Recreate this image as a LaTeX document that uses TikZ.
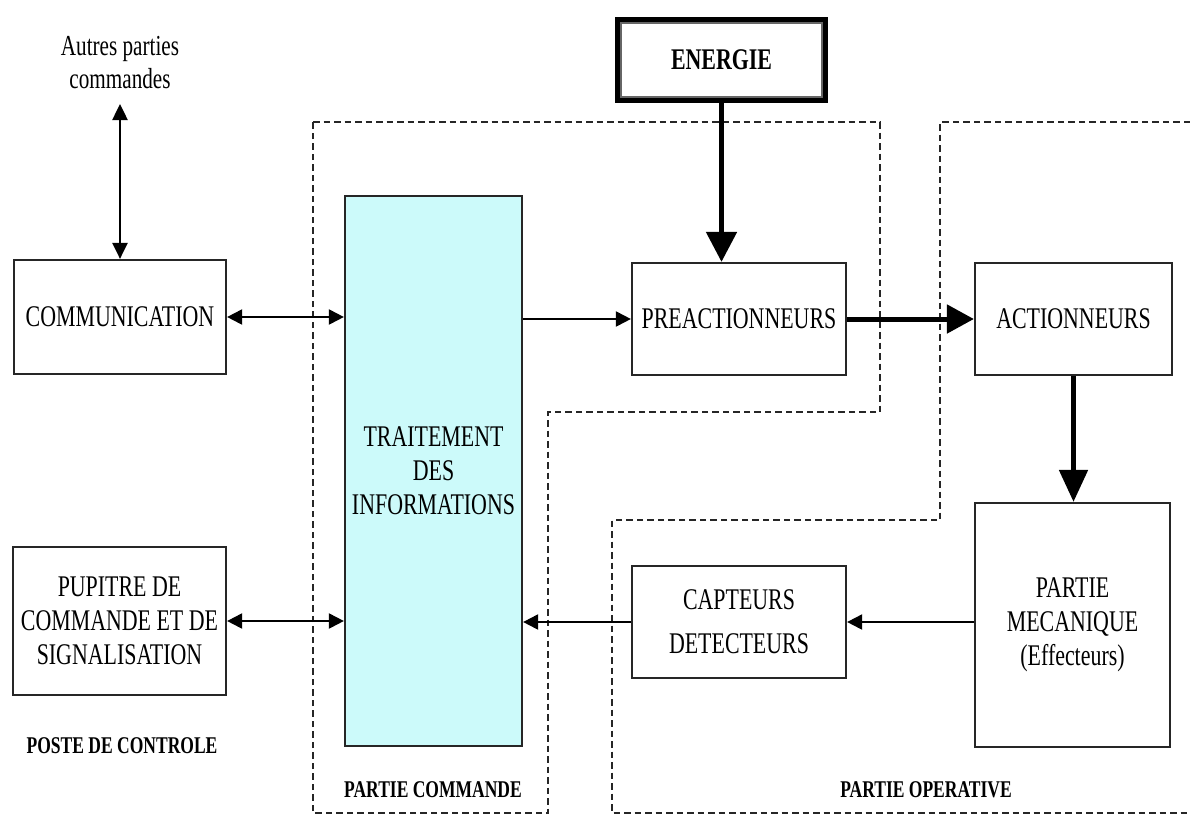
\documentclass[tikz,border=0pt]{standalone}
\usepackage{fontspec}
\setmainfont{Liberation Serif}[FakeStretch=0.73]
\usetikzlibrary{arrows.meta}
\definecolor{infofill}{RGB}{204,250,250}
\begin{document}
\begin{tikzpicture}[x=1pt,y=-1pt,
  blockbox/.style={draw=black!85, line width=2.2pt, align=center, inner sep=0pt,
    font=\fontsize{30}{34}\selectfont},
  zoneline/.style={draw=black!85, line width=2.4pt, dash pattern=on 6.5pt off 4pt},
  zonetext/.style={font=\bfseries\fontsize{24}{28}\selectfont},
  signal/.style={line width=2pt, -{Triangle[length=15pt,width=15pt]}},
  duplex/.style={line width=2pt, {Triangle[length=15pt,width=15pt]}-{Triangle[length=15pt,width=15pt]}},
  power/.style={line width=5pt, -{Triangle[length=30pt,width=30pt]}}]

\fill[white] (0,0) rectangle (1190,817);
\useasboundingbox (0,0) rectangle (1190,817);

% zones: control part and operative part
\draw[zoneline] (313,122) -- (880,122) -- (880,412) -- (548,412) -- (548,813) -- (313,813) -- cycle;
\draw[zoneline] (1190,122) -- (940,122) -- (940,520) -- (612,520) -- (612,813) -- (1190,813);

% blocks
\node[font=\fontsize{29}{33}\selectfont, align=center] (autres) at (120,63) {Autres parties\\commandes};
\coordinate (autrestip) at (120,104);
\node[blockbox, minimum width=212pt, minimum height=114pt] (comm) at (120,317) {COMMUNICATION};
\node[blockbox, minimum width=213pt, minimum height=148pt] (pupitre) at (119.5,621) {PUPITRE DE\\COMMANDE ET DE\\SIGNALISATION};
\node[blockbox, fill=infofill, minimum width=177pt, minimum height=550pt] (trait) at (433.5,471) {TRAITEMENT\\DES\\INFORMATIONS};
\node[blockbox, minimum width=214pt, minimum height=112pt] (preact) at (739,319) {PREACTIONNEURS};
\node[blockbox, minimum width=197pt, minimum height=112pt] (actio) at (1073.5,319) {ACTIONNEURS};
\node[blockbox, minimum width=195pt, minimum height=244pt] (meca) at (1072.5,625) {PARTIE\\MECANIQUE\\(Effecteurs)};
\node[blockbox, minimum width=214pt, minimum height=112pt] (capt) at (739,622) {CAPTEURS\\[10pt]DETECTEURS};

% energy source with a thick-thin frame
\node[draw=black, line width=6pt, minimum width=207pt, minimum height=80pt, inner sep=0pt,
  font=\bfseries\fontsize{30}{34}\selectfont] (energie) at (721.5,60) {ENERGIE};
\draw[black!60, line width=1.5pt] ([shift={(6,6)}]energie.north west) rectangle ([shift={(-6,-6)}]energie.south east);

% zone captions
\node[zonetext] (poste) at (122,746) {POSTE DE CONTROLE};
\node[zonetext] (pc) at (433,790) {PARTIE COMMANDE};
\node[zonetext] (po) at (926,790) {PARTIE OPERATIVE};

% connectors
\draw[line width=2.5pt, {Triangle[length=16pt,width=15pt]}-{Triangle[length=16pt,width=15pt]}] (autrestip) -- (comm.north);
\draw[duplex] (comm.east) -- (comm.east -| trait.west);
\draw[duplex] (pupitre.east) -- (pupitre.east -| trait.west);
\draw[signal] (preact.west -| trait.east) -- (preact.west);
\draw[power] (energie.south) -- (energie.south |- preact.north);
\draw[power, -{Triangle[length=27pt,width=28pt]}] (preact.east) -- (actio.west);
\draw[power, -{Triangle[length=32pt,width=28pt]}] (actio.south) -- (actio.south |- meca.north);
\draw[signal] (capt.east -| meca.west) -- (capt.east);
\draw[signal] (capt.west) -- (capt.west -| trait.east);
\end{tikzpicture}
\end{document}
